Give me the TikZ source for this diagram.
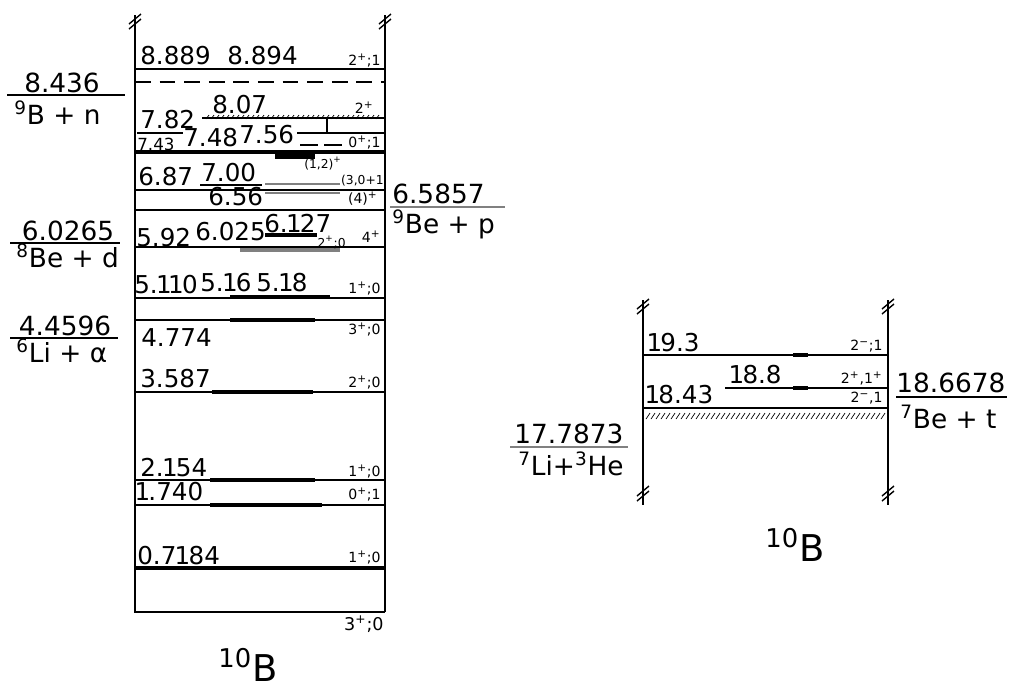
\documentclass[tikz,border=0pt]{standalone}
\usepackage{fontspec}
\setmainfont{DejaVu Sans}
\usetikzlibrary{positioning}
\newcommand\one{\kern-1pt1\kern-1pt}

\begin{document}
\begin{tikzpicture}[x=0.02cm, y=-0.02cm,
  lvl/.style={line width=0.8pt},
  heavy/.style={line width=2.2pt},
  num/.style={inner sep=0pt, text depth=0pt, anchor=base west, font=\fontsize{14}{15}\selectfont},
  small/.style={inner sep=0pt, text depth=0pt, anchor=base west, font=\fontsize{9.5}{10}\selectfont},
  spin/.style={inner sep=0pt, text depth=0pt, anchor=base east, font=\fontsize{8}{9}\selectfont},
  thr/.style={inner sep=0pt, text depth=0pt, font=\fontsize{15}{17}\selectfont},
  nuc/.style={inner sep=0pt, font=\fontsize{21}{24}\selectfont}
]
\useasboundingbox (0,0) rectangle (1011,691);

% left frame
\draw[lvl] (135,15) -- (135,612) -- (385,612);
\draw[line width=1.5pt] (385,15) -- (385,612);
\foreach \x in {135,385}
  \draw[lvl] (\x-6,24) -- (\x+6,14) (\x-6,29) -- (\x+6,19);

% levels
\foreach \y in {69,190,210,247,298,320,392,480,505}
  \draw[lvl] (135,\y) -- (385,\y);
\draw[lvl, dashed, dash pattern=on 9pt off 5pt] (135,82) -- (385,82);
\draw[lvl] (202,118) -- (385,118);
\foreach \x in {206,211,...,380}
  \draw[line width=0.4pt] (\x,119) -- ++(3,-4);
\draw[lvl] (137,133) -- (183,133) (297,133) -- (385,133) (327,118) -- (327,133);
\draw[lvl] (300,145) -- (318,145) (324,145) -- (342,145);
\draw[heavy] (135,152) -- (385,152);
\draw[line width=4pt] (275,155) -- (315,155);
\draw[lvl] (200,185) -- (262,185);
\draw[line width=1.4pt, gray] (265,184) -- (340,184) (265,193) -- (340,193);
\draw[heavy] (265,235) -- (317,235);
\draw[heavy, gray] (240,250) -- (340,250);
\draw[heavy] (230,297) -- (330,297);
\foreach \a/\b/\y in {230/315/320,212/313/392,210/315/480,210/322/505}
  \draw[heavy] (\a,\y) -- (\b,\y);
\draw[line width=1.8pt] (135,568) -- (385,568);

% level energies
\node[num] (e8889) at (140,64) {8.889};
\node[num] (e8894) at (227,64) {8.894};
\node[num] (e807) at (212,113) {8.07};
\node[num] (e782) at (140,128) {7.82};
\node[small] (e743) at (137,150) {7.43};
\node[num] (e748) at (183,146) {7.48};
\node[num] (e756) at (239,143) {7.56};
\node[num] (e700) at (201,181) {7.00};
\node[num] (e687) at (138,185) {6.87};
\node[num] (e656) at (208,205) {6.56};
\node[num] (e6127) at (264,232) {6.\one27};
\node[num] (e6025) at (195,240) {6.025};
\node[num] (e592) at (136,246) {5.92};
\node[num] (e5110) at (134,293) {5.\one\one0};
\node[num] (e516) at (200,291) {5.\one6};
\node[num] (e518) at (256,291) {5.\one8};
\node[num] (e4774) at (141,346) {4.774};
\node[num] (e3587) at (140,387) {3.587};
\node[num] (e2154) at (140,476) {2.\one54};
\node[num] (e1740) at (136,500) {\one.740};
\node[num] (e0718) at (137,564) {0.7\one84};

% spins
\node[spin] (j8889) at (381,65) {2\textsuperscript{+};1};
\node[spin] (j807) at (374,113) {2\textsuperscript{+}};
\node[spin] (j756) at (381,147) {0\textsuperscript{+};1};
\node[spin, font=\fontsize{7}{8}\selectfont] (j700) at (342,168) {(1,2)\textsuperscript{+}};
\node[spin, font=\fontsize{7}{8}\selectfont] (j687) at (384,184) {(3,0+1};
\node[spin] (j656) at (378,203) {(4)\textsuperscript{+}};
\node[spin, font=\fontsize{7}{8}\selectfont] (j6025) at (346,247) {2\textsuperscript{+};0};
\node[spin] (j592) at (381,242) {4\textsuperscript{+}};
\node[spin] (j5110) at (381,293) {1\textsuperscript{+};0};
\node[spin] (j4774) at (381,334) {3\textsuperscript{+};0};
\node[spin] (j3587) at (381,387) {2\textsuperscript{+};0};
\node[spin] (j2154) at (381,476) {1\textsuperscript{+};0};
\node[spin] (j1740) at (381,499) {0\textsuperscript{+};1};
\node[spin] (j0718) at (381,562) {1\textsuperscript{+};0};
\node[spin, font=\fontsize{10}{11}\selectfont] (j0) at (384,630) {3\textsuperscript{+};0};

% thresholds
\draw[lvl] (7,95) -- (125,95);
\node[thr, anchor=base] (t8436) at (62,92) {8.436};
\node[thr, anchor=base west] (c8436) at (14,124) {\textsuperscript{9}B + n};
\draw[lvl] (10,243) -- (120,243);
\node[thr, anchor=base] (t6026) at (68,240) {6.0265};
\node[thr, anchor=base west] (c6026) at (16,267) {\textsuperscript{8}Be + d};
\draw[lvl] (10,338) -- (118,338);
\node[thr, anchor=base] (t4460) at (65,335) {4.4596};
\node[thr, anchor=base west] (c4460) at (16,362) {\textsuperscript{6}Li + α};
\draw[lvl, gray] (390,207) -- (505,207);
\node[thr, anchor=base west] (t6586) at (392,203) {6.5857};
\node[thr, anchor=base west] (c6586) at (392,233) {\textsuperscript{9}Be + p};

\node[nuc] (b10l) at (248,665) {\textsuperscript{10}B};

% right frame
\draw[lvl] (643,300) -- (643,505);
\draw[lvl] (888,300) -- (888,505);
\foreach \x in {643,888} {
  \draw[lvl] (\x-6,309) -- (\x+6,299) (\x-6,314) -- (\x+6,304);
  \draw[lvl] (\x-6,496) -- (\x+6,486) (\x-6,501) -- (\x+6,491);
}
\draw[lvl] (643,355) -- (888,355);
\draw[lvl] (725,388) -- (888,388);
\draw[lvl] (643,408) -- (888,408);
\foreach \x in {646,651,...,884}
  \draw[line width=0.4pt] (\x,419) -- ++(4,-6);
\draw[heavy] (793,355) -- (808,355) (793,388) -- (808,388);

\node[num] (e193) at (648,351) {\one9.3};
\node[num] (e188) at (730,383) {\one8.8};
\node[num] (e1843) at (646,403) {\one8.43};
\node[spin] (j193) at (883,350) {2\textsuperscript{−};1};
\node[spin] (j188) at (883,383) {2\textsuperscript{+},1\textsuperscript{+}};
\node[spin] (j1843) at (883,402) {2\textsuperscript{−},1};

\draw[lvl] (896,397) -- (1007,397);
\node[thr, anchor=base west] (t1867) at (896,392) {18.6678};
\node[thr, anchor=base west] (c1867) at (900,428) {\textsuperscript{7}Be + t};
\draw[lvl, gray] (510,447) -- (628,447);
\node[thr, anchor=base west] (t1779) at (514,443) {17.7873};
\node[thr, anchor=base west] (c1779) at (518,475) {\textsuperscript{7}Li+\textsuperscript{3}He};

\node[nuc] (b10r) at (795,545) {\textsuperscript{10}B};
\end{tikzpicture}
\end{document}
